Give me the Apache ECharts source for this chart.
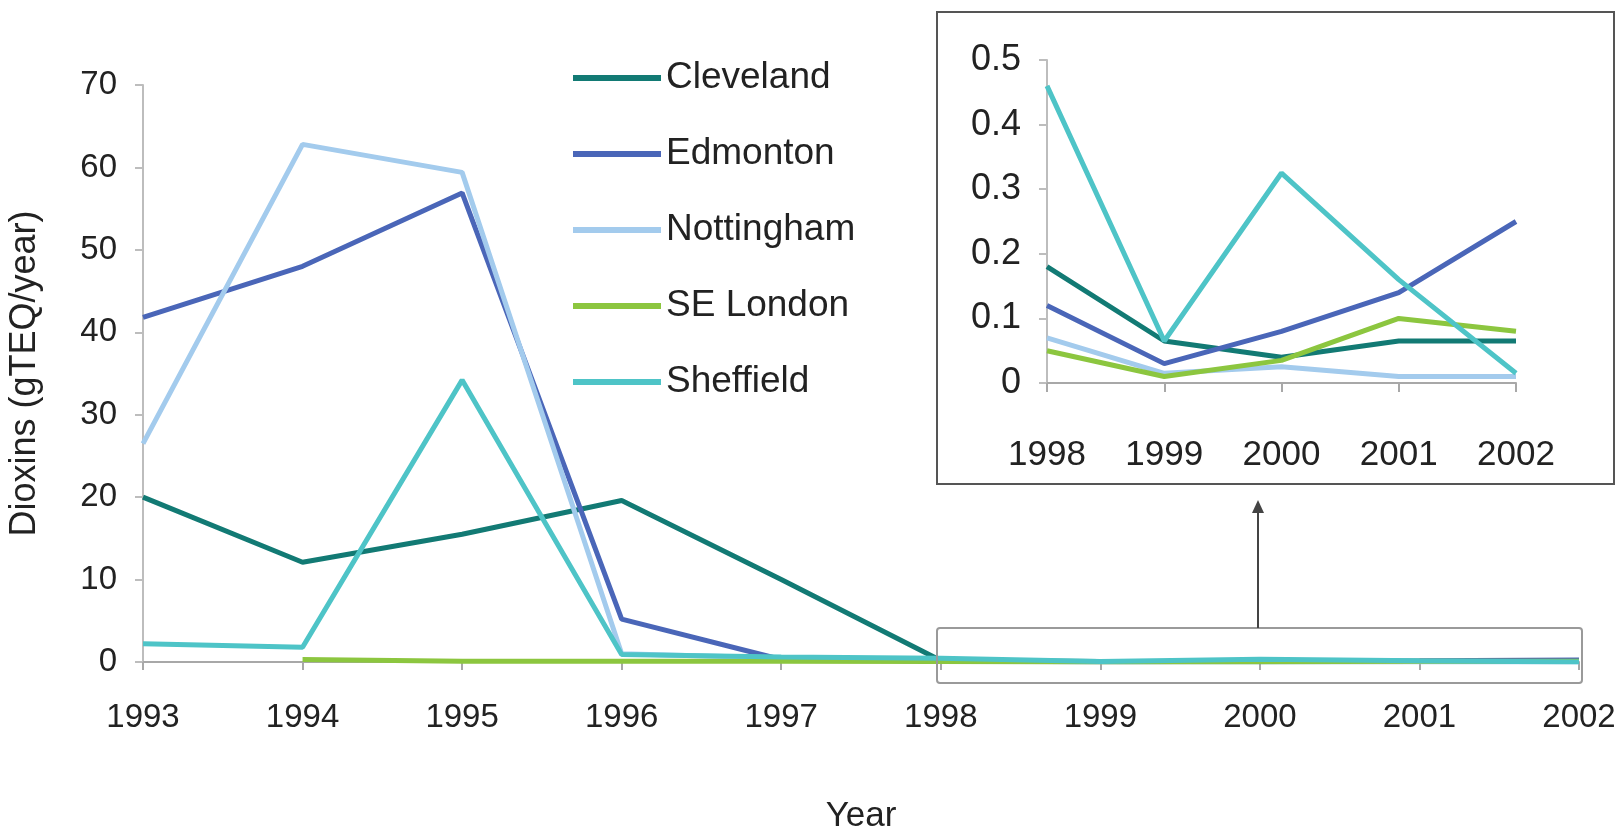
<!DOCTYPE html>
<html>
<head>
<meta charset="utf-8">
<script src="https://cdn.jsdelivr.net/npm/echarts@6/dist/echarts.min.js"></script>
<style>
  html, body { margin: 0; padding: 0; background: #fff; }
  #chart { width: 1623px; height: 832px; }
</style>
</head>
<body>
<div id="chart"></div>
<script>
// Annual dioxin emissions from incinerators, 1993-2002 (gTEQ/year)
const years = ['1993', '1994', '1995', '1996', '1997', '1998', '1999', '2000', '2001', '2002'];
const cleveland  = [20, 12.1, 15.5, 19.6, 10, 0.18, 0.065, 0.04, 0.065, 0.065];
const edmonton   = [41.8, 48, 56.9, 5.2, 0.3, 0.12, 0.03, 0.08, 0.14, 0.25];
const nottingham = [26.5, 62.8, 59.4, 1.0, 0.5, 0.07, 0.015, 0.025, 0.01, 0.01];
const seLondon   = [null, 0.3, 0.1, 0.1, 0.1, 0.05, 0.01, 0.035, 0.1, 0.08];
const sheffield  = [2.2, 1.8, 34.2, 0.9, 0.6, 0.46, 0.065, 0.325, 0.16, 0.015];

const mainTicks = [0, 10, 20, 30, 40, 50, 60, 70];
const insetTicks = [0, 0.1, 0.2, 0.3, 0.4, 0.5];
const insetStart = years.indexOf('1998');

const names  = ['Cleveland', 'Edmonton', 'Nottingham', 'SE London', 'Sheffield'];
const values = [cleveland, edmonton, nottingham, seLondon, sheffield];
const colors = ['#127a74', '#4a66b8', '#a3cbed', '#8cc63f', '#4ec4c7'];

const FONT = '"Liberation Sans", Arial, sans-serif';
const chart = echarts.init(document.getElementById('chart'));

const axisLineGray = { lineStyle: { color: '#a8a8a8', width: 2 } };

const series = [];
names.forEach((n, i) => {
  series.push({
    name: n, type: 'line', xAxisIndex: 0, yAxisIndex: 0,
    data: values[i], showSymbol: false, symbol: 'none',
    lineStyle: { color: colors[i], width: 5 }, itemStyle: { color: colors[i] },
    connectNulls: false, animation: false, z: 2 + i
  });
});
names.forEach((n, i) => {
  series.push({
    name: n, type: 'line', xAxisIndex: 1, yAxisIndex: 1,
    data: values[i].slice(insetStart), showSymbol: false, symbol: 'none',
    lineStyle: { color: colors[i], width: 5 }, itemStyle: { color: colors[i] },
    animation: false, z: 2 + i
  });
});

chart.setOption({
  backgroundColor: '#fff',
  animation: false,
  textStyle: { fontFamily: FONT },
  legend: {
    data: names,
    orient: 'vertical',
    left: 568, top: 53,
    itemWidth: 88, itemHeight: 6,
    itemGap: 36,
    icon: 'rect',
    textStyle: { fontFamily: FONT, fontSize: 37, color: '#222', lineHeight: 40, padding: [0, 0, 0, 0] },
    selectedMode: false
  },
  grid: [
    { left: 143, right: 44, top: 85, bottom: 170, outerBoundsMode: 'none', containLabel: false },
    { left: 1047, top: 60, width: 469, height: 323, outerBoundsMode: 'none', containLabel: false }
  ],
  xAxis: [
    {
      type: 'category', gridIndex: 0, data: years, boundaryGap: false,
      name: 'Year', nameLocation: 'middle', nameGap: 137,
      nameTextStyle: { fontFamily: FONT, fontSize: 35, color: '#222' },
      axisLine: axisLineGray,
      axisTick: { show: true, length: 8, lineStyle: { color: '#a8a8a8', width: 2 } },
      axisLabel: { fontFamily: FONT, fontSize: 33, color: '#222', margin: 39 },
      splitLine: { show: false }
    },
    {
      type: 'category', gridIndex: 1, data: years.slice(insetStart), boundaryGap: false,
      axisLine: axisLineGray,
      axisTick: { show: true, length: 9, lineStyle: { color: '#a8a8a8', width: 2 } },
      axisLabel: { fontFamily: FONT, fontSize: 35, color: '#222', margin: 55 },
      splitLine: { show: false }
    }
  ],
  yAxis: [
    {
      type: 'value', gridIndex: 0, min: mainTicks[0], max: mainTicks[mainTicks.length - 1], interval: 10,
      name: 'Dioxins (gTEQ/year)', nameLocation: 'middle', nameGap: 100,
      nameTextStyle: { fontFamily: FONT, fontSize: 36, color: '#222' },
      axisLine: { show: true, lineStyle: { color: '#bdbdbd', width: 2 } },
      axisTick: { show: true, length: 8, lineStyle: { color: '#bdbdbd', width: 2 } },
      axisLabel: { fontFamily: FONT, fontSize: 33, color: '#222', margin: 26 },
      splitLine: { show: false }
    },
    {
      type: 'value', gridIndex: 1, min: insetTicks[0], max: insetTicks[insetTicks.length - 1], interval: 0.1,
      axisLine: { show: true, lineStyle: { color: '#bdbdbd', width: 2 } },
      axisTick: { show: true, length: 8, lineStyle: { color: '#bdbdbd', width: 2 } },
      axisLabel: { fontFamily: FONT, fontSize: 36, color: '#222', margin: 26 },
      splitLine: { show: false }
    }
  ],
  series: series,
  graphic: [
    // inset frame
    { type: 'rect', shape: { x: 937, y: 12, width: 677, height: 472 },
      style: { fill: 'none', stroke: '#555', lineWidth: 2 }, z: 1 },
    // zoom region marker on the main plot
    { type: 'rect', shape: { x: 937, y: 628, width: 645, height: 55, r: 3 },
      style: { fill: 'none', stroke: '#9a9a9a', lineWidth: 2 }, z: 10 },
    // arrow from marker up to inset
    { type: 'line', shape: { x1: 1258, y1: 628, x2: 1258, y2: 508 },
      style: { stroke: '#444', lineWidth: 2 }, z: 10 },
    { type: 'polygon', shape: { points: [[1258, 500], [1252, 513], [1264, 513]] },
      style: { fill: '#444' }, z: 10 }
  ]
});
</script>
</body>
</html>
